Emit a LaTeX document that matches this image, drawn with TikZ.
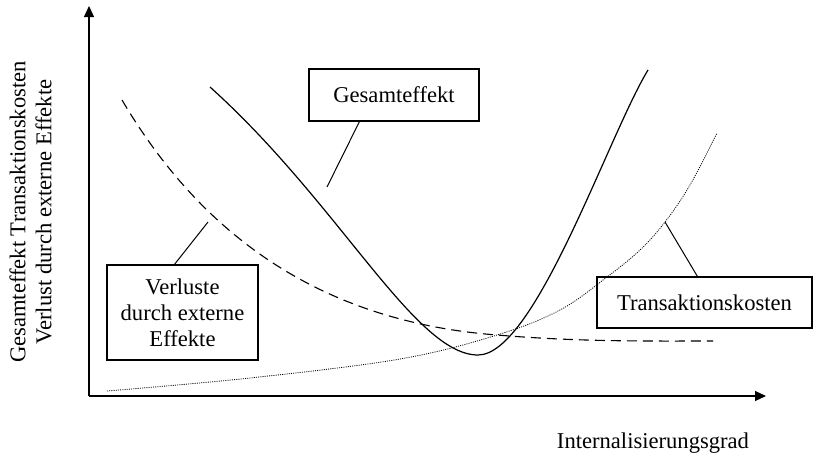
\documentclass[tikz,border=0pt]{standalone}
\usepackage{fontspec}
\setmainfont{Liberation Serif}
\usetikzlibrary{arrows.meta, positioning}
\tikzset{
>={Triangle[length=11pt, width=10pt]}, % filled arrow heads on the axes
every node/.style={font=\fontsize{22.6}{26}\selectfont}, % text size as in the reference
axis/.style={line width=1.2pt}, % the two axes
kasten/.style={draw, line width=1.1pt, align=center, inner sep=0pt}, % label boxes
leader/.style={line width=1pt}, % lines from a box to its curve
}

\begin{document}
\begin{tikzpicture}[x=1pt, y=-1pt]
      \useasboundingbox (0,0) rectangle (814,461);

      \coordinate (o) at (89,396);
      \coordinate (xend) at (766,396);
      \coordinate (yend) at (89,6);
      \draw[axis, ->] (o) -- (xend);
      \draw[axis, ->] (o) -- (yend);

      % curves
      \draw[line width=1.2pt] (210,87) .. controls (340,204) and (415,355) .. (478,355)
            .. controls (535,355) and (608,136) .. (648,70);
      \draw[line width=1.1pt, dash pattern=on 10pt off 6pt] (122,100) .. controls (190,215) and (300,320) .. (497,335)
            .. controls (580,342) and (650,341) .. (713,341);
      \draw[line width=0.8pt, dash pattern=on 1pt off 1.2pt] plot[smooth, tension=0.6] coordinates {(107,391) (250,378) (400,359) (497,335) (560,310) (607,277) (640,250) (665,222) (690,185) (717,133)};

      % boxes
      \node[kasten, minimum width=170pt, minimum height=52pt] (ges) at (394,95) {Gesamteffekt};
      \node[kasten, minimum width=151pt, minimum height=95pt] (verl) at (182.5,312.5) {Verluste\\durch externe\\Effekte};
      \node[kasten, minimum width=215pt, minimum height=51pt] (trans) at (704.5,302.5) {Transaktionskosten};

      \coordinate (gpt) at (327,187);
      \coordinate (vpt) at (208,222);
      \coordinate (tpt) at (665,222);
      \draw[leader] (ges.south west) ++(51,0) coordinate (gfoot) -- (gpt);
      \draw[leader] (verl.north west) ++(68,0) coordinate (vfoot) -- (vpt);
      \draw[leader] (trans.north west) ++(101,0) coordinate (tfoot) -- (tpt);

      % axis titles
      \node[rotate=90, align=center] (ylab) at (30.5,212) {Gesamteffekt Transaktionskosten\\Verlust durch externe Effekte};
      \node (xlab) at (653,443) {Internalisierungsgrad};
\end{tikzpicture}
\end{document}
